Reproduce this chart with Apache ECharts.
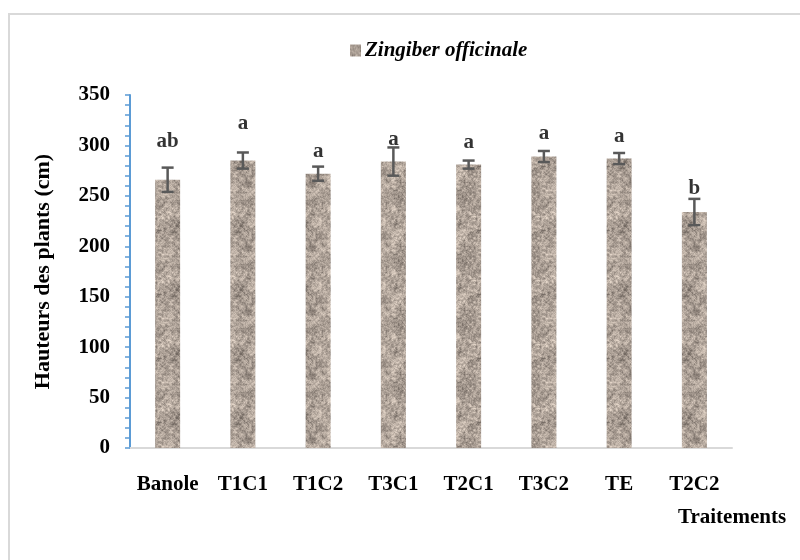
<!DOCTYPE html>
<html>
<head>
<meta charset="utf-8">
<title>Hauteurs des plants — Zingiber officinale</title>
<script src="https://cdn.jsdelivr.net/npm/echarts@6/dist/echarts.min.js"></script>
<style>
  html, body { margin: 0; padding: 0; background: #ffffff; }
  #chart { width: 800px; height: 560px; }
</style>
</head>
<body>
<div id="chart"></div>
<script>
// Treatments and mean plant height (cm)
const categories = ['Banole', 'T1C1', 'T1C2', 'T3C1', 'T2C1', 'T3C2', 'TE', 'T2C2'];
const heights    = [266, 285, 272, 284, 281, 289, 287, 234];
// Standard error for each treatment (cm)
const errors     = [12, 8, 7, 14, 4, 5.5, 5.5, 13];
// Statistical grouping letters and the height at which each is written
const letters    = ['ab', 'a', 'a', 'a', 'a', 'a', 'a', 'b'];
const letterY    = [304, 322, 294, 306, 303, 312, 309, 257];
const yTicks     = { min: 0, max: 350, interval: 50 };

const FONT = '"Liberation Serif", "Times New Roman", serif';

// Granite-like fill: smooth value noise built from an integer hash
function makeTexture() {
  const N = 64;
  const c = document.createElement('canvas');
  c.width = N; c.height = N;
  const ctx = c.getContext('2d');
  const img = ctx.createImageData(N, N);
  function hash(x, y, s) {
    x = ((x % 1024) + 1024) % 1024; y = ((y % 1024) + 1024) % 1024;
    let h = Math.imul(x, 374761393) ^ Math.imul(y, 668265263) ^ Math.imul(s, 144665);
    h = Math.imul(h ^ (h >>> 13), 1274126177);
    h = h ^ (h >>> 16);
    return (h >>> 0) / 4294967295;
  }
  function smooth(x, y, size, s) {
    const g = N / size;
    const gx = x / size, gy = y / size;
    const x0 = Math.floor(gx), y0 = Math.floor(gy);
    const fx = gx - x0, fy = gy - y0;
    const sx = fx * fx * (3 - 2 * fx), sy = fy * fy * (3 - 2 * fy);
    const a = hash(x0 % g, y0 % g, s), b = hash((x0 + 1) % g, y0 % g, s);
    const cc = hash(x0 % g, (y0 + 1) % g, s), d = hash((x0 + 1) % g, (y0 + 1) % g, s);
    return (a + (b - a) * sx) + ((cc + (d - cc) * sx) - (a + (b - a) * sx)) * sy;
  }
  for (let y = 0; y < N; y++) {
    for (let x = 0; x < N; x++) {
      let v = 0.3 * smooth(x, y, 8, 1) + 0.45 * smooth(x, y, 2, 2) + 0.25 * hash(x, y, 3);
      v = (v - 0.5) * 1.9;
      const r = 172 + v * 75, g = 160 + v * 72, b = 150 + v * 68;
      const i = (y * N + x) * 4;
      img.data[i] = Math.max(0, Math.min(255, r));
      img.data[i + 1] = Math.max(0, Math.min(255, g));
      img.data[i + 2] = Math.max(0, Math.min(255, b));
      img.data[i + 3] = 255;
    }
  }
  ctx.putImageData(img, 0, 0);
  return c;
}
const texture = { image: makeTexture(), repeat: 'repeat' };

const chart = echarts.init(document.getElementById('chart'), null, { renderer: 'canvas' });

const option = {
  backgroundColor: '#ffffff',
  animation: false,
  graphic: [
    {
      type: 'rect',
      shape: { x: 9, y: 14, width: 820, height: 580 },
      style: { fill: 'none', stroke: '#d9d9d9', lineWidth: 2 },
      silent: true
    },
    {
      type: 'text',
      left: 678, top: 507,
      style: { text: 'Traitements', font: 'bold 21px ' + FONT, fill: '#000000' }
    }
  ],
  legend: {
    data: ['Zingiber officinale'],
    left: 345, top: 35,
    icon: 'rect',
    itemWidth: 11, itemHeight: 12, itemGap: 4,
    textStyle: { fontFamily: FONT, fontWeight: 'bold', fontStyle: 'italic', fontSize: 21, color: '#000000', padding: [0, 0, 0, -1] }
  },
  grid: { left: 130, right: 68, top: 95, bottom: 112, containLabel: false },
  xAxis: {
    type: 'category',
    data: categories,
    axisLine: { lineStyle: { color: '#d9d9d9', width: 2 } },
    axisTick: { show: false },
    axisLabel: { interval: 0, margin: 26, fontFamily: FONT, fontWeight: 'bold', fontSize: 21, color: '#000000' }
  },
  yAxis: {
    type: 'value',
    min: yTicks.min, max: yTicks.max, interval: yTicks.interval,
    name: 'Hauteurs des plants (cm)',
    nameLocation: 'middle',
    nameGap: 76,
    nameRotate: 90,
    nameTextStyle: { fontFamily: FONT, fontWeight: 'bold', fontSize: 22, color: '#000000' },
    axisLine: { show: true, lineStyle: { color: '#5b9bd5', width: 2 } },
    axisTick: { show: true, length: 5, lineStyle: { color: '#5b9bd5', width: 1.5 } },
    minorTick: { show: true, splitNumber: 5, length: 5, lineStyle: { color: '#5b9bd5', width: 1.5 } },
    splitLine: { show: false },
    axisLabel: { margin: 20, fontFamily: FONT, fontWeight: 'bold', fontSize: 21, color: '#000000' }
  },
  series: [
    {
      name: 'Zingiber officinale',
      type: 'bar',
      data: heights,
      barWidth: 25,
      itemStyle: { color: texture }
    },
    {
      // Error bars (mean ± SE)
      type: 'custom',
      silent: true,
      data: heights.map((h, i) => [i, h - errors[i], h + errors[i]]),
      renderItem: function (params, api) {
        const lo = api.coord([api.value(0), api.value(1)]);
        const hi = api.coord([api.value(0), api.value(2)]);
        const half = 6;
        const st = { stroke: '#595959', lineWidth: 2.5 };
        return {
          type: 'group',
          children: [
            { type: 'line', shape: { x1: hi[0], y1: hi[1], x2: lo[0], y2: lo[1] }, style: st },
            { type: 'line', shape: { x1: hi[0] - half, y1: hi[1], x2: hi[0] + half, y2: hi[1] }, style: st },
            { type: 'line', shape: { x1: lo[0] - half, y1: lo[1], x2: lo[0] + half, y2: lo[1] }, style: st }
          ]
        };
      },
      z: 5
    },
    {
      // Grouping letters
      type: 'scatter',
      silent: true,
      symbolSize: 0,
      data: letterY.map((y, i) => [i, y]),
      label: {
        show: true,
        position: 'inside',
        formatter: p => letters[p.dataIndex],
        fontFamily: FONT, fontWeight: 'bold', fontSize: 21, color: '#000000'
      },
      z: 6
    }
  ]
};

chart.setOption(option);
</script>
</body>
</html>
